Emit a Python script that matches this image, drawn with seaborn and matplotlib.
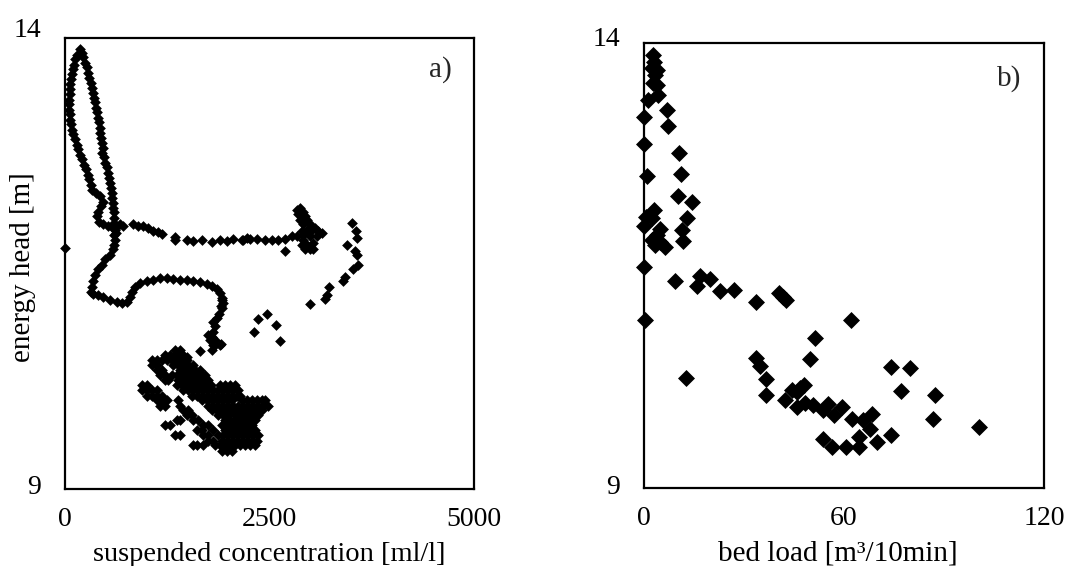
import matplotlib
matplotlib.use("Agg")
import matplotlib.pyplot as plt
import matplotlib.transforms as mtransforms
import seaborn as sns
import pandas as pd
import numpy as np

# ---------------- panel a) : suspended concentration vs energy head ----------------
# outer (left) branch of the rising loop
loop_left_conc = [189, 157, 132, 116, 100, 88, 79, 71, 67, 63, 59, 59, 59, 63, 67, 79, 92, 108, 128, 149,
                  169, 189, 214, 238, 263, 283, 303, 320, 340, 385, 434, 466, 442, 413, 401, 426, 475, 536, 597]
loop_left_head = [13.87, 13.81, 13.76, 13.70, 13.65, 13.59, 13.54, 13.48, 13.43, 13.37, 13.31, 13.26, 13.20,
                  13.15, 13.09, 13.04, 12.98, 12.93, 12.87, 12.81, 12.76, 12.70, 12.65, 12.59, 12.54, 12.48,
                  12.43, 12.37, 12.31, 12.28, 12.24, 12.18, 12.13, 12.07, 12.02, 11.96, 11.93, 11.91, 11.89]

# inner (right) branch, then the S-shaped curve
loop_right_conc = [210, 230, 250, 271, 287, 303, 320, 332, 344, 356, 369, 381, 393, 405, 417, 430, 438, 450,
                   458, 466, 454, 483, 499, 515, 527, 540, 552, 564, 576, 584, 589, 597, 601, 605, 609, 617,
                   629, 617, 609, 617, 609, 589, 556, 495, 454, 413, 373, 352, 332, 320, 352, 413, 474, 556,
                   637, 699, 760, 800, 821, 861, 923, 1004, 1085, 1167, 1248, 1330, 1411, 1493, 1574, 1656,
                   1737, 1798, 1859, 1900, 1929, 1933, 1920]
loop_right_head = [13.83, 13.78, 13.72, 13.67, 13.61, 13.55, 13.50, 13.44, 13.39, 13.33, 13.28, 13.22, 13.17,
                   13.11, 13.06, 13.00, 12.94, 12.89, 12.83, 12.78, 12.72, 12.67, 12.61, 12.56, 12.50, 12.44,
                   12.39, 12.33, 12.28, 12.22, 12.17, 12.11, 12.06, 12.00, 11.94, 11.89, 11.83, 11.87, 11.81,
                   11.76, 11.70, 11.65, 11.59, 11.54, 11.48, 11.43, 11.37, 11.30, 11.23, 11.18, 11.16, 11.14,
                   11.12, 11.09, 11.07, 11.06, 11.07, 11.12, 11.18, 11.23, 11.28, 11.30, 11.31, 11.33, 11.33,
                   11.32, 11.31, 11.31, 11.30, 11.29, 11.27, 11.24, 11.21, 11.17, 11.11, 11.06, 11.00]

# descent into the low-head cluster
descent_conc = [1920, 1908, 1892, 1859, 1818, 1839, 1818, 1757, 1798, 1839, 1818, 1798, 1908, 1655, 1492,
                1452, 1778, 1839, 1900]
descent_head = [11.09, 11.02, 10.94, 10.89, 10.85, 10.80, 10.74, 10.70, 10.68, 10.65, 10.59, 10.54, 10.60,
                10.52, 10.46, 10.41, 10.65, 10.59, 10.59]

# horizontal "arrow" at about 11.8 m
arrow_conc = [678, 719, 841, 902, 963, 1024, 1085, 1147, 1187, 1350, 1350, 1493, 1574, 1676, 1798, 1900,
              1982, 2063, 2165, 2226, 2185, 2267, 2348, 2450, 2532, 2613, 2695, 2776, 2837, 2695]
arrow_head = [11.93, 11.91, 11.93, 11.91, 11.91, 11.89, 11.86, 11.84, 11.82, 11.79, 11.76, 11.75, 11.74,
              11.76, 11.73, 11.75, 11.74, 11.77, 11.76, 11.78, 11.76, 11.77, 11.77, 11.75, 11.75, 11.76,
              11.77, 11.80, 11.80, 11.63]
tip_conc = [2878, 2919, 2878, 2959, 3000, 2919, 3061, 3143, 3082, 3000, 2919, 2898, 2939, 3000, 2858, 2959,
            2898, 2837, 2939, 3021, 3102, 3041, 2959, 3041, 2919]
tip_head = [12.11, 12.06, 11.98, 11.98, 11.93, 11.93, 11.89, 11.83, 11.80, 11.80, 11.76, 11.70, 11.65,
            11.65, 12.04, 11.87, 11.85, 12.09, 12.02, 11.87, 11.85, 11.72, 11.70, 11.65, 11.81]

# scattered points at high concentration
sparse_conc = [3509, 3562, 3570, 3456, 3550, 3570, 3591, 3530, 3428, 3407, 3236, 3204, 3183, 3000, 2471,
               2369, 2585, 2316, 2634, 0]
sparse_head = [11.94, 11.85, 11.78, 11.70, 11.63, 11.59, 11.48, 11.43, 11.35, 11.30, 11.23, 11.15, 11.10,
               11.04, 10.94, 10.88, 10.81, 10.74, 10.64, 11.67]

# dense cluster at low head
cluster_conc = [
    1350, 1411,
    1228, 1289, 1350, 1411, 1452,
    1065, 1126, 1187, 1248, 1309, 1370, 1431, 1492,
    1065, 1126, 1330, 1391, 1452, 1513, 1574,
    1126, 1187, 1411, 1472, 1533, 1594, 1655,
    1167, 1228, 1309, 1370, 1431, 1492, 1554, 1615, 1676, 1717,
    1228, 1268, 1391, 1452, 1513, 1574, 1635, 1696, 1757,
    943, 1004, 1370, 1431, 1492, 1554, 1615, 1676, 1737, 1790, 1900, 1961, 2022, 2083,
    943, 1004, 1065, 1126, 1452, 1513, 1574, 1635, 1696, 1757, 1818, 1879, 1941, 2002, 2063, 2124,
    1004, 1065, 1126, 1187, 1554, 1615, 1676, 1737, 1798, 1859, 1920, 1981, 2042, 2103, 2144,
    1126, 1187, 1248, 1391, 1676, 1737, 1798, 1859, 1920, 1981, 2042, 2165, 2226, 2287, 2348, 2409, 2450,
    1167, 1228, 1411, 1757, 1818, 1879, 1941, 2002, 2063, 2124, 2185, 2246, 2307, 2368, 2429, 2490,
    1452, 1513, 1798, 1859, 1920, 1981, 2042, 2103, 2165, 2226, 2287, 2348, 2409,
    1492, 1554, 1879, 1941, 2002, 2083, 2144, 2205, 2266, 2327, 2368,
    1370, 1411, 1574, 1635, 1961, 2022, 2083, 2144, 2205, 2266, 2327,
    1228, 1289, 1696, 1757, 1920, 1981, 2042, 2103, 2165, 2226, 2287,
    1615, 1676, 1818, 1961, 2022, 2083, 2144, 2205, 2266, 2327,
    1350, 1411, 1696, 1757, 1879, 1941, 2002, 2063, 2124, 2185, 2246, 2307, 2368,
    1757, 1818, 1920, 1981, 2042, 2103, 2165, 2226, 2287, 2348,
    1574, 1615, 1696, 1839, 1900, 1961, 2022, 2083, 2144, 2205, 2266, 2327,
    1920, 1981, 2042,
]
cluster_head = [
    10.53, 10.53,
    10.48, 10.48, 10.48, 10.48, 10.48,
    10.42, 10.42, 10.42, 10.42, 10.42, 10.42, 10.42, 10.42,
    10.37, 10.37, 10.37, 10.37, 10.37, 10.37, 10.37,
    10.31, 10.31, 10.31, 10.31, 10.31, 10.31, 10.31,
    10.26, 10.26, 10.26, 10.26, 10.26, 10.26, 10.26, 10.26, 10.26, 10.26,
    10.20, 10.20, 10.20, 10.20, 10.20, 10.20, 10.20, 10.20, 10.20,
    10.15, 10.15, 10.15, 10.15, 10.15, 10.15, 10.15, 10.15, 10.15, 10.15, 10.15, 10.15, 10.15, 10.15,
    10.09, 10.09, 10.09, 10.09, 10.09, 10.09, 10.09, 10.09, 10.09, 10.09, 10.09, 10.09, 10.09, 10.09, 10.09, 10.09,
    10.03, 10.03, 10.03, 10.03, 10.03, 10.03, 10.03, 10.03, 10.03, 10.03, 10.03, 10.03, 10.03, 10.03, 10.03,
    9.98, 9.98, 9.98, 9.98, 9.98, 9.98, 9.98, 9.98, 9.98, 9.98, 9.98, 9.98, 9.98, 9.98, 9.98, 9.98, 9.98,
    9.92, 9.92, 9.92, 9.92, 9.92, 9.92, 9.92, 9.92, 9.92, 9.92, 9.92, 9.92, 9.92, 9.92, 9.92, 9.92,
    9.87, 9.87, 9.87, 9.87, 9.87, 9.87, 9.87, 9.87, 9.87, 9.87, 9.87, 9.87, 9.87,
    9.81, 9.81, 9.81, 9.81, 9.81, 9.81, 9.81, 9.81, 9.81, 9.81, 9.81,
    9.76, 9.76, 9.76, 9.76, 9.76, 9.76, 9.76, 9.76, 9.76, 9.76, 9.76,
    9.70, 9.70, 9.70, 9.70, 9.70, 9.70, 9.70, 9.70, 9.70, 9.70, 9.70,
    9.65, 9.65, 9.65, 9.65, 9.65, 9.65, 9.65, 9.65, 9.65, 9.65,
    9.59, 9.59, 9.59, 9.59, 9.59, 9.59, 9.59, 9.59, 9.59, 9.59, 9.59, 9.59, 9.59,
    9.53, 9.53, 9.53, 9.53, 9.53, 9.53, 9.53, 9.53, 9.53, 9.53,
    9.48, 9.48, 9.48, 9.48, 9.48, 9.48, 9.48, 9.48, 9.48, 9.48, 9.48, 9.48,
    9.42, 9.42, 9.42,
]

# ---------------- panel b) : bed load vs energy head ----------------
bedload = [2.95, 3.15, 2.45, 3.95, 3.45, 2.95, 3.95, 4.45, 1.45, 7.15, 0.16, 7.45, 0.16, 10.75, 0.96, 11.14,
           10.45, 14.44, 3.15, 0.76, 0.0, 2.45, 12.94, 4.95, 3.95, 11.44, 2.45, 3.45, 4.95, 6.45, 11.94, 0.0,
           9.45, 16.94, 15.94, 19.94, 22.93, 27.13, 0.46, 33.7, 40.7, 41.7, 42.7, 62.1, 51.4, 33.6, 34.9,
           49.9, 36.6, 36.7, 74.1, 79.9, 77.3, 87.2, 86.7, 100.6, 42.4, 44.4, 45.9, 46.9, 48.1, 45.9, 48.4,
           50.7, 53.9, 55.4, 57.2, 59.4, 62.4, 65.9, 68.6, 67.9, 74.1, 53.9, 56.4, 60.6, 64.7, 64.7, 70.1,
           12.8]
head_b = [13.87, 13.79, 13.72, 13.70, 13.64, 13.55, 13.53, 13.42, 13.36, 13.25, 13.17, 13.07, 12.87, 12.76,
          12.51, 12.53, 12.28, 12.21, 12.12, 12.05, 11.94, 12.03, 12.03, 11.91, 11.84, 11.90, 11.79, 11.73,
          11.76, 11.71, 11.78, 11.48, 11.33, 11.38, 11.27, 11.35, 11.21, 11.23, 10.89, 11.09, 11.19, 11.15,
          11.11, 10.89, 10.69, 10.46, 10.37, 10.45, 10.22, 10.04, 10.36, 10.35, 10.09, 10.04, 9.77, 9.68,
          9.99, 10.10, 10.08, 10.12, 10.16, 9.91, 9.95, 9.93, 9.88, 9.94, 9.82, 9.91, 9.78, 9.76, 9.83,
          9.66, 9.60, 9.55, 9.46, 9.46, 9.57, 9.46, 9.52, 10.24]

conc_ticks = [0, 500, 1000, 1500, 2000, 2500, 3000, 3500, 4000, 4500, 5000]
conc_ticklabels = ["0", "", "", "", "", "2500", "", "", "", "", "5000"]
bed_ticks = [0, 20, 40, 60, 80, 100, 120]
bed_ticklabels = ["0", "", "", "60", "", "", "120"]
head_ticks = [9, 10, 11, 12, 13, 14]
head_ticklabels = ["9", "", "", "", "", "14"]

# ---------------- build frames ----------------
dfa = pd.DataFrame({
    "conc": loop_left_conc + loop_right_conc + descent_conc + arrow_conc + tip_conc + sparse_conc + cluster_conc,
    "head": loop_left_head + loop_right_head + descent_head + arrow_head + tip_head + sparse_head + cluster_head,
})
dfb = pd.DataFrame({"bed": bedload, "head": head_b})

sns.set_style("white")
plt.rcParams["font.family"] = ["Liberation Serif", "DejaVu Serif"]

W, H = 1077, 566
fig = plt.figure(figsize=(W / 100, H / 100), dpi=100)


def px_axes(l, t, r, b):
    return [l / W, 1 - b / H, (r - l) / W, (b - t) / H]


ax1 = fig.add_axes(px_axes(64.5, 37.5, 473.5, 488.5))
ax2 = fig.add_axes(px_axes(643.5, 43, 1044, 488))

sns.scatterplot(data=dfa, x="conc", y="head", marker="D", s=30, color="black",
                linewidth=0, ax=ax1, clip_on=False, zorder=3)
sns.scatterplot(data=dfb, x="bed", y="head", marker="D", s=75, color="black",
                linewidth=0, ax=ax2, clip_on=False, zorder=3)

for ax, xt, xtl, xlim in [(ax1, conc_ticks, conc_ticklabels, (0, 5000)),
                          (ax2, bed_ticks, bed_ticklabels, (0, 120))]:
    ax.set_xlim(*xlim)
    ax.set_ylim(9, 14)
    ax.set_xticks(xt)
    ax.set_xticklabels(xtl)
    ax.set_yticks(head_ticks)
    ax.set_yticklabels(head_ticklabels)
    ax.tick_params(axis="both", direction="in", length=4, width=1, color="black",
                   labelsize=20, labelcolor="black")
    ax.tick_params(axis="x", pad=13)
    ax.tick_params(axis="y", pad=17)
    for sp in ax.spines.values():
        sp.set_visible(True)
        sp.set_color("black")
        sp.set_linewidth(1.6)
    ax.grid(False)

ax1.set_xlabel("suspended concentration [ml/l]", fontsize=20.5, color="black")
ax1.xaxis.set_label_coords(0.5, -0.118)
ax1.set_ylabel("energy head [m]", fontsize=21, color="black")
ax1.yaxis.set_label_coords(-0.07, 0.49)
ax2.set_xlabel("bed load [m³/10min]", fontsize=21, color="black")
ax2.xaxis.set_label_coords(0.486, -0.118)
ax2.set_ylabel("")

ax1.text(0.947, 0.93, "a)", transform=ax1.transAxes, ha="right", va="center", fontsize=21)
ax2.text(0.943, 0.921, "b)", transform=ax2.transAxes, ha="right", va="center", fontsize=21)

# the "14" labels sit a little above their tick in the original
for ax, dy in [(ax1, 10), (ax2, 7)]:
    lbls = ax.get_yticklabels()
    top = lbls[-1]
    top.set_transform(top.get_transform() + mtransforms.ScaledTranslation(0, dy / 100, fig.dpi_scale_trans))
    bot = lbls[0]
    bot.set_transform(bot.get_transform() + mtransforms.ScaledTranslation(0, 4 / 100, fig.dpi_scale_trans))

fig.savefig("out.png", dpi=100)
